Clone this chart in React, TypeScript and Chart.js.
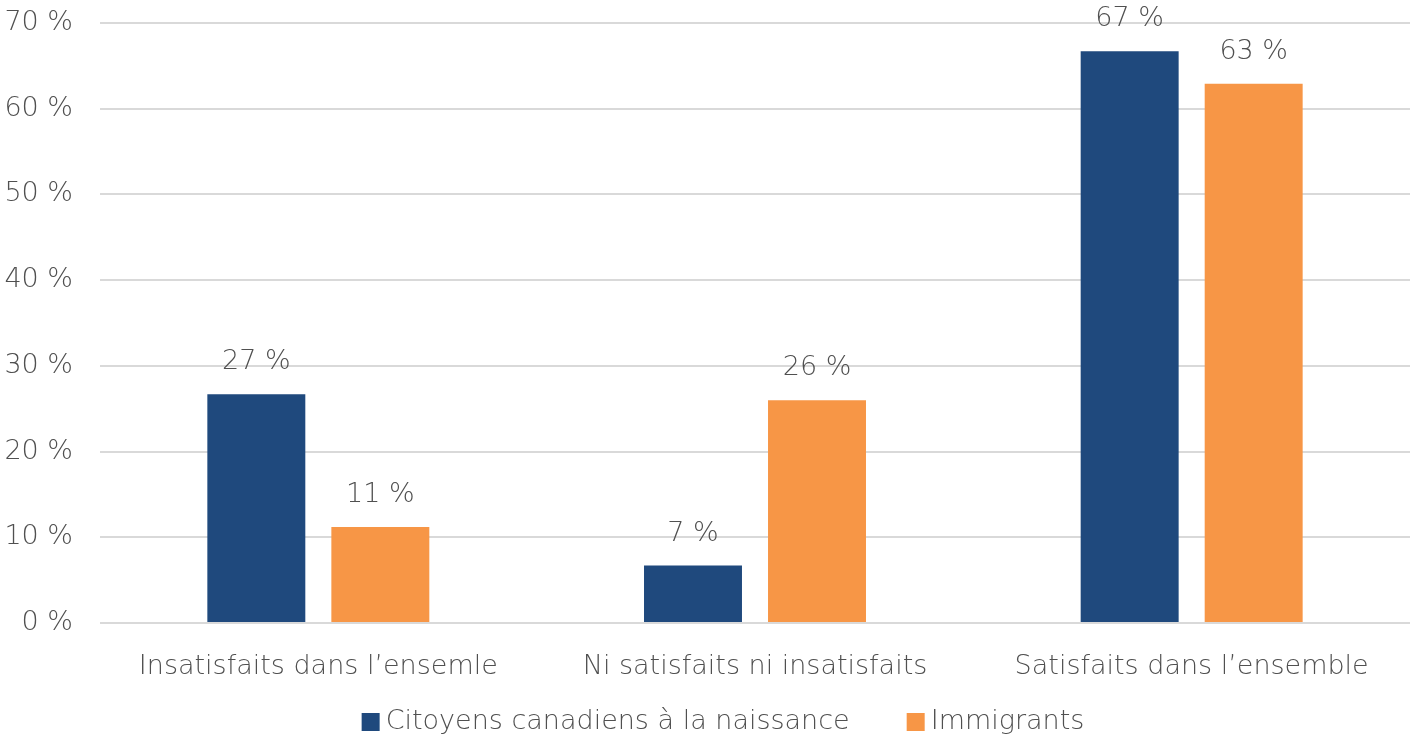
import React, { useEffect, useRef } from "react";
import { Chart, registerables } from "chart.js";

Chart.register(...registerables);

const categories = [
  "Insatisfaits dans l\u2019ensemle",
  "Ni satisfaits ni insatisfaits",
  "Satisfaits dans l\u2019ensemble",
];
const seriesNames = ["Citoyens canadiens à la naissance", "Immigrants"];
const seriesColors = ["#1F497D", "#F79646"];
const citoyensValues = [26.7, 6.7, 66.7];
const immigrantsValues = [11.2, 26.0, 62.9];
const citoyensLabels = ["27 %", "7 %", "67 %"];
const immigrantsLabels = ["11 %", "26 %", "63 %"];
const yTicks = [0, 10, 20, 30, 40, 50, 60, 70];

const FONT = "'DejaVu Sans', sans-serif";
const WEIGHT = 200;
const SIZE = 27;
const TEXT = "#505050";

const labelPlugin = {
  id: "barLabels",
  afterDatasetsDraw(chart: any) {
    const ctx = chart.ctx;
    const labelSets = [citoyensLabels, immigrantsLabels];
    ctx.save();
    ctx.font = `${WEIGHT} ${SIZE}px ${FONT}`;
    ctx.fillStyle = TEXT;
    ctx.textAlign = "center";
    ctx.textBaseline = "middle";
    chart.data.datasets.forEach((_: any, di: number) => {
      const meta = chart.getDatasetMeta(di);
      meta.data.forEach((bar: any, i: number) => {
        ctx.fillText(labelSets[di][i], bar.x, bar.y - 32);
      });
    });
    ctx.restore();
  },
};

const legendPlugin = {
  id: "customLegend",
  afterDraw(chart: any) {
    const ctx = chart.ctx;
    ctx.save();
    ctx.font = `${WEIGHT} ${SIZE}px ${FONT}`;
    ctx.textBaseline = "middle";
    ctx.textAlign = "left";
    const box = 18;
    const gapBoxText = 6;
    const gapItems = 57;
    const widths = seriesNames.map((n) => ctx.measureText(n).width);
    const total =
      widths.reduce((a, w) => a + box + gapBoxText + w, 0) + gapItems * (seriesNames.length - 1);
    let x = 723 - total / 2;
    const y = 722;
    seriesNames.forEach((name, i) => {
      ctx.fillStyle = seriesColors[i];
      ctx.fillRect(x, y - box / 2, box, box);
      x += box + gapBoxText;
      ctx.fillStyle = TEXT;
      ctx.fillText(name, x, y);
      x += widths[i] + gapItems;
    });
    ctx.restore();
  },
};

export default function App() {
  const ref = useRef<HTMLCanvasElement>(null);
  useEffect(() => {
    if (!ref.current) return;
    const chart = new Chart(ref.current, {
      type: "bar",
      data: {
        labels: categories,
        datasets: [
          {
            label: seriesNames[0],
            data: citoyensValues,
            backgroundColor: seriesColors[0],
            categoryPercentage: 0.568,
            barPercentage: 0.79,
          },
          {
            label: seriesNames[1],
            data: immigrantsValues,
            backgroundColor: seriesColors[1],
            categoryPercentage: 0.568,
            barPercentage: 0.79,
          },
        ],
      },
      options: {
        animation: false,
        responsive: true,
        maintainAspectRatio: false,
        layout: { padding: { top: 23, right: 5, left: 0, bottom: 52 } },
        plugins: {
          legend: { display: false },
          tooltip: { enabled: false },
        },
        scales: {
          x: {
            grid: { display: false },
            border: { display: false },
            afterFit: (axis: any) => {
              axis.height = 65;
            },
            ticks: {
              color: TEXT,
              font: { family: FONT, size: SIZE, weight: WEIGHT },
              padding: 20,
              maxRotation: 0,
            },
          },
          y: {
            min: 0,
            max: 70,
            afterFit: (axis: any) => {
              axis.width = 100;
              axis.paddingTop = 0;
              axis.paddingBottom = 0;
            },
            afterBuildTicks: (axis: any) => {
              axis.ticks = yTicks.map((v) => ({ value: v }));
            },
            grid: { color: "#D9D9D9", lineWidth: 2, drawTicks: false },
            border: { display: false },
            ticks: {
              color: TEXT,
              font: { family: FONT, size: SIZE, weight: WEIGHT },
              padding: 27,
              callback: (v: any) => `${v} %`,
            },
          },
        },
      },
      plugins: [labelPlugin, legendPlugin],
    });
    return () => chart.destroy();
  }, []);
  return (
    <div style={{ position: "fixed", left: 0, top: 0, width: 1415, height: 740, background: "#fff" }}>
      <canvas ref={ref} />
    </div>
  );
}
